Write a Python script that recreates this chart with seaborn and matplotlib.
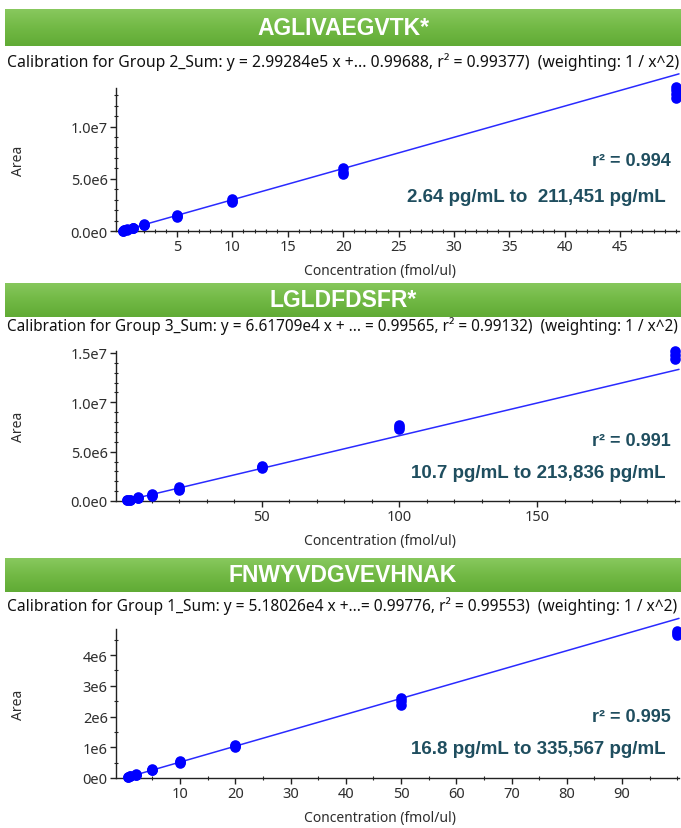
import numpy as np
import pandas as pd
import matplotlib
matplotlib.use("Agg")
import matplotlib.pyplot as plt
import seaborn as sns
from matplotlib.ticker import FixedLocator, MultipleLocator
from matplotlib.colors import LinearSegmentedColormap

# ---------------- data ----------------
titles = ["AGLIVAEGVTK*", "LGLDFDSFR*", "FNWYVDGVEVHNAK"]
subtitles = [
    "Calibration for Group 2_Sum: y = 2.99284e5 x +... 0.99688, r² = 0.99377)  (weighting: 1 / x^2)",
    "Calibration for Group 3_Sum: y = 6.61709e4 x + ... = 0.99565, r² = 0.99132)  (weighting: 1 / x^2)",
    "Calibration for Group 1_Sum: y = 5.18026e4 x +...= 0.99776, r² = 0.99553)  (weighting: 1 / x^2)",
]
r2_labels = ["r² = 0.994", "r² = 0.991", "r² = 0.995"]
range_labels = ["2.64 pg/mL to  211,451 pg/mL",
                "10.7 pg/mL to 213,836 pg/mL",
                "16.8 pg/mL to 335,567 pg/mL"]
slopes = [2.99284e5, 6.61709e4, 5.18026e4]

conc_1 = [0.1, 0.1, 0.25, 0.25, 0.5, 0.5, 1, 1, 1, 2, 2, 2, 5, 5, 5,
          10, 10, 10, 20, 20, 20, 50, 50, 50, 50]
area_1 = [0.03e6, 0.03e6, 0.07e6, 0.08e6, 0.14e6, 0.16e6, 0.28e6, 0.30e6, 0.32e6,
          0.58e6, 0.62e6, 0.66e6, 1.35e6, 1.48e6, 1.58e6,
          2.75e6, 2.92e6, 3.1e6, 5.45e6, 5.7e6, 6.0e6, 12.7e6, 13.1e6, 13.5e6, 13.8e6]

conc_2 = [1, 1, 2, 2, 5, 5, 5, 10, 10, 10, 20, 20, 20, 50, 50, 50,
          100, 100, 100, 200, 200, 200]
area_2 = [0.06e6, 0.07e6, 0.13e6, 0.14e6, 0.30e6, 0.33e6, 0.36e6,
          0.55e6, 0.64e6, 0.72e6, 1.1e6, 1.25e6, 1.4e6, 3.3e6, 3.4e6, 3.5e6,
          7.3e6, 7.5e6, 7.75e6, 14.4e6, 14.8e6, 15.2e6]

conc_3 = [0.5, 0.5, 1, 1, 2, 2, 2, 5, 5, 5, 10, 10, 10, 20, 20, 20,
          50, 50, 50, 100, 100, 100]
area_3 = [0.025e6, 0.03e6, 0.05e6, 0.055e6, 0.10e6, 0.11e6, 0.12e6,
          0.25e6, 0.27e6, 0.29e6, 0.50e6, 0.52e6, 0.55e6, 1.02e6, 1.05e6, 1.09e6,
          2.38e6, 2.5e6, 2.62e6, 4.65e6, 4.72e6, 4.8e6]

xticks_1 = [5, 10, 15, 20, 25, 30, 35, 40, 45]
xticks_2 = [50, 100, 150]
xticks_3 = [10, 20, 30, 40, 50, 60, 70, 80, 90]
yticks_1 = [0, 5e6, 1e7]
ytick_labels_1 = ["0.0e0", "5.0e6", "1.0e7"]
yticks_2 = [0, 5e6, 1e7, 1.5e7]
ytick_labels_2 = ["0.0e0", "5.0e6", "1.0e7", "1.5e7"]
yticks_3 = [0, 1e6, 2e6, 3e6, 4e6]
ytick_labels_3 = ["0e0", "1e6", "2e6", "3e6", "4e6"]

xlabel = "Concentration (fmol/ul)"
ylabel = "Area"

# ---------------- style / layout ----------------
sns.set_style("ticks")
plt.rcParams["font.family"] = ["Noto Sans", "DejaVu Sans"]

W, H = 681, 829
fig = plt.figure(figsize=(W / 100, H / 100), dpi=100)
fig.patch.set_facecolor("white")

def rect(x0, y0, x1, y1):
    return [x0 / W, 1 - y1 / H, (x1 - x0) / W, (y1 - y0) / H]

banners = [(5, 10, 681, 47), (5, 284, 681, 318), (5, 559, 681, 593)]
subtitle_y = [62, 326, 606]
axes_px = [(116, 89, 679, 232), (116, 352, 679, 502), (116, 630, 679, 779)]
xlims = [(-0.5, 50.3), (-3, 201.6), (-1.6, 100.3)]
ylims = [(0, 13.7e6), (0, 15.2e6), (0, 4.85e6)]
xminor = [1, 10, 5]
yminor = [1e6, 1e6, 0.5e6]
r2_y = [162, 441, 718]
range_y = [197, 474, 750]

panels = [
    (conc_1, area_1, xticks_1, yticks_1, ytick_labels_1),
    (conc_2, area_2, xticks_2, yticks_2, ytick_labels_2),
    (conc_3, area_3, xticks_3, yticks_3, ytick_labels_3),
]

grad = np.linspace(0, 1, 64).reshape(-1, 1)
gcmap = LinearSegmentedColormap.from_list("g", ["#88c85e", "#72b945", "#60ab35"])

text_col = "#1f4e5f"
tick_col = "#2e2e2e"

fig.canvas.draw()
renderer = fig.canvas.get_renderer()

for i, (conc, area, xt, yt, ytl) in enumerate(panels):
    # banner
    bx = fig.add_axes(rect(*banners[i]))
    bx.imshow(grad, aspect="auto", cmap=gcmap, extent=(0, 1, 0, 1))
    bx.set_axis_off()
    bx.text(0.5, 0.5, titles[i], ha="center", va="center", color="white",
            fontsize=16.5, fontweight="bold", family="Liberation Sans",
            transform=bx.transAxes)

    # subtitle, fitted to width
    st = fig.text(7 / W, 1 - subtitle_y[i] / H, subtitles[i], ha="left", va="center",
                  fontsize=10, color="#111111")
    wpx = st.get_window_extent(renderer=renderer).width
    st.set_fontsize(10 * 670 / wpx)

    ax = fig.add_axes(rect(*axes_px[i]))
    df = pd.DataFrame({"conc": conc, "area": area})
    sns.scatterplot(data=df, x="conc", y="area", ax=ax, color="#0000ff", s=58,
                    linewidth=0, clip_on=False, zorder=3)
    line_df = pd.DataFrame({"conc": [0, xlims[i][1]],
                            "area": [0, slopes[i] * xlims[i][1]]})
    sns.lineplot(data=line_df, x="conc", y="area", ax=ax, color="#2a2aff", lw=1.1,
                 clip_on=False, zorder=2)
    ax.set_xlim(*xlims[i])
    ax.set_ylim(*ylims[i])
    ax.xaxis.set_major_locator(FixedLocator(xt))
    ax.xaxis.set_minor_locator(MultipleLocator(xminor[i]))
    ax.set_yticks(yt)
    ax.set_yticklabels(ytl)
    ax.yaxis.set_minor_locator(MultipleLocator(yminor[i]))
    for s in ["top", "right"]:
        ax.spines[s].set_visible(False)
    for s in ["left", "bottom"]:
        ax.spines[s].set_linewidth(1.0)
        ax.spines[s].set_color("#222222")
    ax.tick_params(which="major", length=4, width=1, color="#222222",
                   labelsize=10.5, labelcolor=tick_col, pad=2)
    ax.tick_params(which="minor", length=3, width=0.8, color="#222222",
                   direction="inout")
    ax.set_xlabel(xlabel, fontsize=10, color=tick_col)
    ax.set_ylabel(ylabel, fontsize=10, color=tick_col)
    x0, y0, x1, y1 = axes_px[i]
    ax.xaxis.set_label_coords((380 - x0) / (x1 - x0), -40 / (y1 - y0))
    ax.xaxis.label.set_va("center")
    ax.yaxis.set_label_coords((18 - x0) / (x1 - x0), 0.5)
    ax.yaxis.label.set_va("center")
    ax.set_facecolor("none")

    fig.text(671 / W, 1 - r2_y[i] / H, r2_labels[i], ha="right", va="center",
             fontsize=13, fontweight="bold", color=text_col, family="Liberation Sans")
    fig.text(666 / W, 1 - range_y[i] / H, range_labels[i], ha="right", va="center",
             fontsize=13.5, fontweight="bold", color=text_col, family="Liberation Sans")

fig.savefig("out.png", dpi=100)
